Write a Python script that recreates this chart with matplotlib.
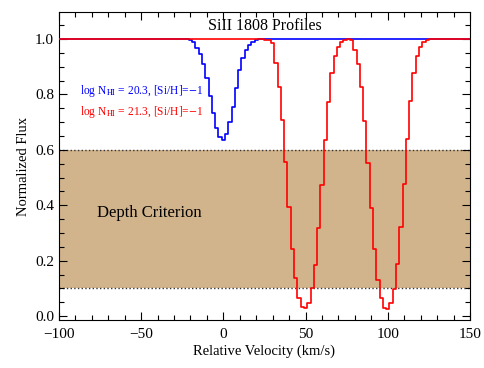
import numpy as np
import matplotlib
matplotlib.use("Agg")
import matplotlib.pyplot as plt
from matplotlib.ticker import MultipleLocator

plt.rcParams['font.family'] = ['Liberation Serif', 'DejaVu Serif']
plt.rcParams['mathtext.fontset'] = 'stix'

# velocity bins (km/s), 2 km/s pixels
velocity = np.arange(-100, 152, 2)

# blue profile: log N_HI = 20.3, bins -20 .. 22
blue_start = -20
blue_dip = [0.996, 0.988, 0.969, 0.945, 0.909, 0.858, 0.794, 0.733, 0.680, 0.647,
            0.635,
            0.657, 0.699, 0.756, 0.824, 0.888, 0.930, 0.960, 0.978, 0.990, 0.996,
            0.999]

# red profile: log N_HI = 21.3, bins 26 .. 126
red_start = 26
red_dip = [0.998, 0.995, 0.984, 0.912, 0.828, 0.708, 0.557, 0.395, 0.244, 0.136,
           0.067, 0.034, 0.028, 0.046, 0.100, 0.184, 0.317, 0.473, 0.635, 0.774,
           0.876, 0.940, 0.972, 0.988, 0.996, 0.999, 0.995, 0.960, 0.909, 0.828,
           0.704, 0.551, 0.389, 0.241, 0.132, 0.064, 0.031, 0.025, 0.046, 0.097,
           0.187, 0.320, 0.477, 0.639, 0.777, 0.876, 0.939, 0.972, 0.990, 0.996,
           0.999]

depth_lo, depth_hi = 0.1, 0.6


def profile(start, dip):
    flux = np.ones_like(velocity, dtype=float)
    i0 = int(np.searchsorted(velocity, start))
    flux[i0:i0 + len(dip)] = dip
    return flux


blue_flux = profile(blue_start, blue_dip)
red_flux = profile(red_start, red_dip)

fig = plt.figure(figsize=(4.85, 3.68), dpi=100)
ax = fig.add_axes([0.1216, 0.1304, 0.8474, 0.8366])

ax.axhspan(depth_lo, depth_hi, color='tan', lw=0, zorder=0)
ax.axhline(depth_lo, color='#333333', ls=':', lw=1.0, zorder=1)
ax.axhline(depth_hi, color='#333333', ls=':', lw=1.0, zorder=1)

ax.step(velocity, blue_flux, where='mid', color='blue', lw=1.2, zorder=2)
ax.step(velocity, red_flux, where='mid', color='red', lw=1.2, zorder=3)

ax.set_xlim(-100, 150)
ax.set_ylim(-0.014, 1.097)
ax.xaxis.set_major_locator(MultipleLocator(50))
ax.xaxis.set_minor_locator(MultipleLocator(10))
ax.yaxis.set_major_locator(MultipleLocator(0.2))
ax.yaxis.set_minor_locator(MultipleLocator(0.05))
ax.yaxis.set_major_formatter(plt.FormatStrFormatter('%.1f'))
ax.tick_params(which='both', direction='in', top=True, right=True, labelsize=11)
ax.tick_params(which='major', length=6, width=0.8)
ax.tick_params(which='minor', length=3.5, width=0.8)
ax.tick_params(axis='x', pad=6)

ax.set_xlabel('Relative Velocity (km/s)', fontsize=10.5, labelpad=2)
ax.set_ylabel('Normalized Flux', fontsize=10.5, labelpad=4)

ax.text(0.5, 1.047, 'SiII 1808 Profiles', transform=ax.get_yaxis_transform(),
        ha='center', va='center', fontsize=11.5)
ax.text(-77, 0.372, 'Depth Criterion', ha='left', va='center', fontsize=12)
ax.text(-87, 0.812, r'log N$_{\rm HI}$ = 20.3, [Si/H]=$-$1', color='blue',
        ha='left', va='center', fontsize=8.3)
ax.text(-87, 0.736, r'log N$_{\rm HI}$ = 21.3, [Si/H]=$-$1', color='red',
        ha='left', va='center', fontsize=8.3)

fig.savefig('out.png', dpi=100)
